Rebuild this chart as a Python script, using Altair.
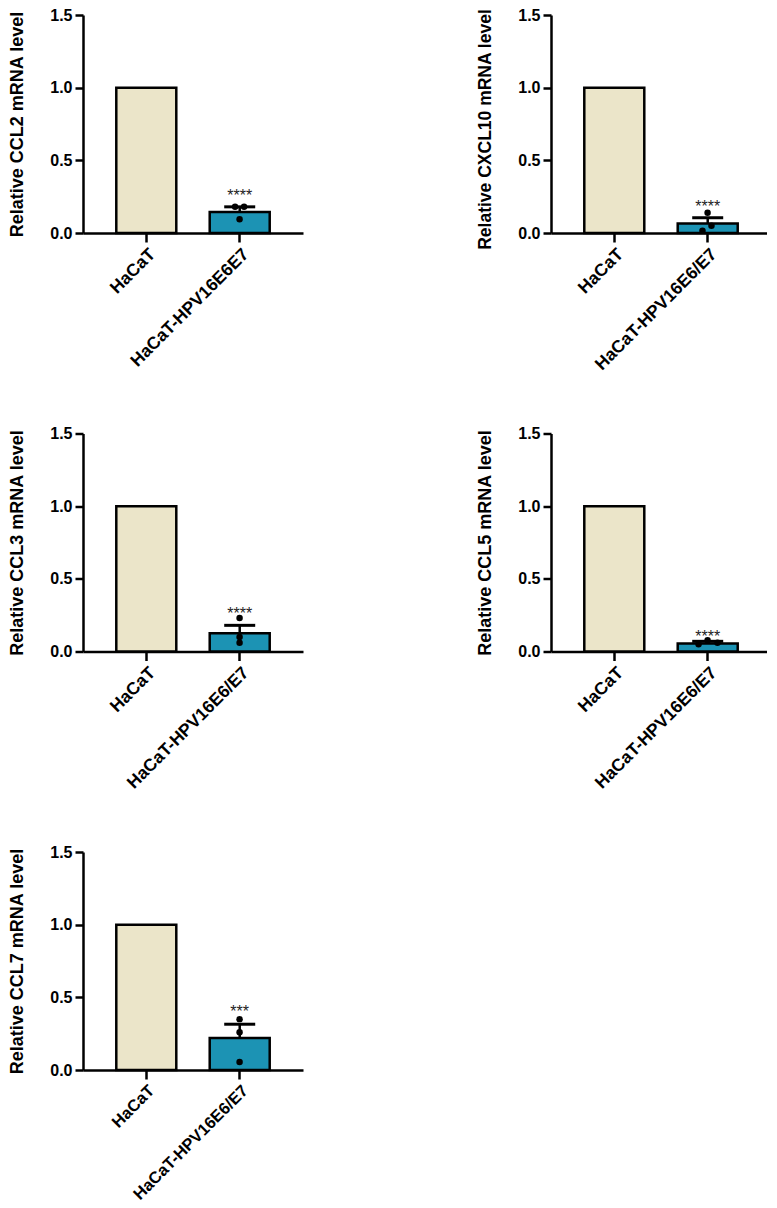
import pandas as pd
import altair as alt

# Values
genes = ['CCL2', 'CXCL10', 'CCL3', 'CCL5', 'CCL7']
second_group = ['HaCaT-HPV16E6E7', 'HaCaT-HPV16E6/E7', 'HaCaT-HPV16E6/E7', 'HaCaT-HPV16E6/E7', 'HaCaT-HPV16E6/E7']
means = [0.145, 0.065, 0.125, 0.055, 0.22]
uppers = [0.18, 0.105, 0.18, 0.07, 0.315]
points_y = [[0.18, 0.18, 0.095], [0.14, 0.05, 0.015], [0.23, 0.10, 0.06], [0.078, 0.05, 0.06], [0.35, 0.26, 0.055]]
points_jitter = [[-0.15, 0.15, 0.0], [0.0, 0.13, -0.17], [0.0, 0.0, 0.0], [0.0, -0.3, 0.33], [0.0, 0.0, 0.0]]
stars = ['****', '****', '****', '****', '***']
stars_y = [0.255, 0.176, 0.26, 0.10, 0.40]

bar_colors = ['#ebe5c9', '#1c93b4']
label_font = 'Liberation Sans'


def panel(i):
    order = ['HaCaT', second_group[i]]
    # the last panel's long label has to stay inside the page
    x_label_size = 16.5 if i == 4 else 17.5
    x = alt.X('group:N', sort=order, title=None, scale=alt.Scale(paddingInner=0.355, paddingOuter=0.355),
              axis=alt.Axis(labelAngle=-45, labelAlign='right', labelBaseline='top', labelFontSize=x_label_size,
                            labelFontWeight='bold', labelPadding=3, tickSize=9, tickWidth=2.5, tickColor='black',
                            domainWidth=2.5, domainColor='black', labelColor='black', labelFont=label_font,
                            labelLimit=300, grid=False))
    # CXCL10 title is the long one, it would run off the top otherwise
    title_opts = {'titleFontSize': 17.5, 'titleY': 114} if genes[i] == 'CXCL10' else {'titleFontSize': 18}
    y = alt.Y('value:Q', scale=alt.Scale(domain=[0, 1.5], nice=False), title='Relative %s mRNA level' % genes[i],
              axis=alt.Axis(values=[0, 0.5, 1.0, 1.5], format='.1f', labelFontSize=16, labelFontWeight='bold',
                            labelPadding=3, tickSize=8, tickWidth=2.5, tickColor='black', domainWidth=2.5,
                            domainColor='black', labelColor='black', labelFont=label_font, titleFont=label_font,
                            titleFontWeight='bold', titleColor='black', titlePadding=23,
                            grid=False, **title_opts))

    bar_df = pd.DataFrame({'group': order, 'value': [1.0, means[i]], 'fill': bar_colors})
    bars = alt.Chart(bar_df).mark_bar(size=60, stroke='black', strokeWidth=2.5).encode(
        x=x, y=y, color=alt.Color('fill:N', scale=None))

    err_df = pd.DataFrame({'group': [second_group[i]], 'value': [means[i]], 'upper': [uppers[i]]})
    stem = alt.Chart(err_df).mark_rule(color='black', strokeWidth=2.5).encode(x=x, y=y, y2='upper:Q')
    cap = alt.Chart(err_df).mark_tick(color='black', size=31, thickness=3, opacity=1).encode(x=x, y=alt.Y('upper:Q'))

    dot_df = pd.DataFrame({'group': second_group[i], 'value': points_y[i], 'jitter': points_jitter[i]})
    dots = alt.Chart(dot_df).mark_circle(size=42, color='black', opacity=1).encode(
        x=x, y=y, xOffset=alt.XOffset('jitter:Q', scale=alt.Scale(domain=[-1, 1], range=[0, 60])))

    star_df = pd.DataFrame({'group': [second_group[i]], 'value': [stars_y[i]], 'txt': [stars[i]]})
    star = alt.Chart(star_df).mark_text(fontSize=16, font=label_font, color='#222222', baseline='middle').encode(
        x=x, y=y, text='txt:N')

    return alt.layer(bars, stem, cap, dots, star).properties(width=220, height=218)


chart = alt.concat(
    *[panel(i) for i in range(5)], columns=2, spacing={'row': 200.5, 'column': 248}, bounds='flush'
).properties(padding={'left': 0, 'right': -4, 'top': -1, 'bottom': 0}, background='white').configure_view(stroke=None)

chart.save("out.html", embed_options={"renderer": "svg", "actions": False})
